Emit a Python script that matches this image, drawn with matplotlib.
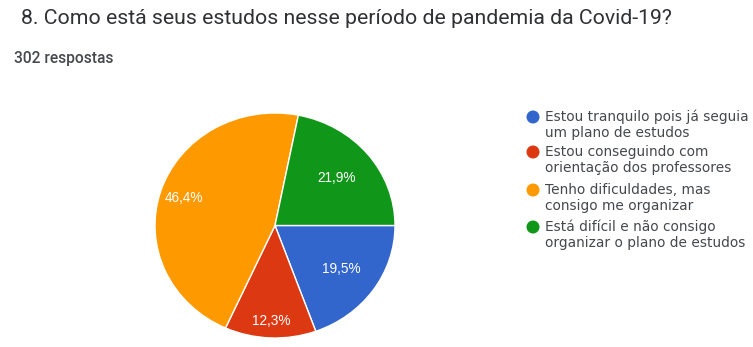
import numpy as np
import matplotlib.pyplot as plt
from matplotlib.patches import Ellipse

# Respostas da pergunta 8
categorias = [
    "Estou tranquilo pois já seguia\num plano de estudos",
    "Estou conseguindo com\norientação dos professores",
    "Tenho dificuldades, mas\nconsigo me organizar",
    "Está difícil e não consigo\norganizar o plano de estudos",
]
percentuais = [19.5, 12.3, 46.4, 21.9]
cores = ["#3366cc", "#dc3912", "#ff9900", "#109618"]
rotulos = ["19,5%", "12,3%", "46,4%", "21,9%"]
raio_rotulo = [0.68, 0.85, 0.80, 0.66]

W, H = 753, 347
fig = plt.figure(figsize=(W / 100, H / 100), dpi=100)
fig.patch.set_facecolor("white")


def px(x, y):
    return x / W, 1 - y / H


fig.text(*px(21, 18), "8. Como está seus estudos nesse período de pandemia da Covid-19?",
         fontsize=15.3, family="Roboto", color="#303134", va="center", ha="left")
fig.text(*px(14, 58), "302 respostas", fontsize=11.2, family="Roboto", weight="medium",
         color="#45484c", va="center", ha="left")

# Pizza
ax = fig.add_axes([155 / W, 1 - 338 / H, 240 / W, 225 / H])
wedges, _ = ax.pie(percentuais, colors=cores, startangle=0, counterclock=False,
                   wedgeprops=dict(edgecolor="white", linewidth=1.0))
ax.set_aspect("auto")
ax.set_xlim(-1, 1)
ax.set_ylim(-1, 1)
ax.axis("off")

for w, txt, r in zip(wedges, rotulos, raio_rotulo):
    ang = np.deg2rad((w.theta1 + w.theta2) / 2)
    ax.text(r * np.cos(ang), r * np.sin(ang), txt, ha="center", va="center",
            color="white", fontsize=9.8, family="Liberation Sans")

# Legenda
y0 = [117, 152, 190, 227]
for cat, cor, y in zip(categorias, cores, y0):
    fig.patches.append(Ellipse(px(533, y), 13 / W, 13 / H, transform=fig.transFigure,
                               facecolor=cor, edgecolor="none"))
    l1, l2 = cat.split("\n")
    fig.text(*px(545, y), l1, fontsize=9.9, family="DejaVu Sans", color="#45484c",
             va="center", ha="left")
    fig.text(*px(545, y + 16), l2, fontsize=9.9, family="DejaVu Sans", color="#45484c",
             va="center", ha="left")

fig.savefig("out.png", dpi=100)
